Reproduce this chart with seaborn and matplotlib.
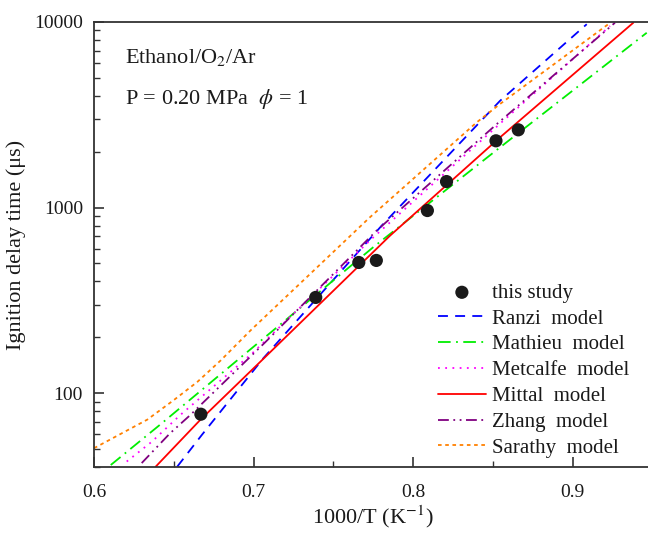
import numpy as np
import pandas as pd
import matplotlib
matplotlib.use("Agg")
import matplotlib.pyplot as plt
import seaborn as sns
from matplotlib.ticker import FixedLocator, NullFormatter, LogLocator, FuncFormatter

# ---- data ----
exp_x = [0.667, 0.739, 0.766, 0.777, 0.809, 0.821, 0.852, 0.866]
exp_y = [77, 328, 506, 519, 964, 1381, 2290, 2624]

ranzi_x = [0.6522, 0.6675, 0.7061, 0.7804, 0.8545, 0.9089]
ranzi_y = [40.2, 59.4, 154, 800, 3758, 9730]

mathieu_x = [0.6105, 0.6424, 0.6936, 0.7751, 0.8545, 0.9465]
mathieu_y = [41, 68.7, 160, 612, 2109, 8750]

metcalfe_x = [0.6205, 0.6362, 0.6539, 0.6989, 0.7741, 0.8566, 0.9235]
metcalfe_y = [42.8, 54.7, 76, 163, 679, 2938, 9510]

mittal_x = [0.6387, 0.6665, 0.7051, 0.7856, 0.8545, 0.9381]
mittal_y = [40.2, 71.6, 150, 706, 2388, 9910]

zhang_x = [0.6299, 0.6476, 0.6602, 0.7076, 0.7772, 0.8525, 0.9266]
zhang_y = [42, 60.7, 76, 189, 752, 2818, 9910]

sarathy_x = [0.6, 0.6334, 0.6502, 0.6648, 0.6794, 0.6982, 0.7730, 0.8399, 0.8545, 0.9224]
sarathy_y = [50.5, 72, 92, 115, 150, 218, 887, 2878, 3614, 9730]

model_names = ["Ranzi  model", "Mathieu  model", "Metcalfe  model",
               "Mittal  model", "Zhang  model", "Sarathy  model"]
model_data = [(ranzi_x, ranzi_y), (mathieu_x, mathieu_y), (metcalfe_x, metcalfe_y),
              (mittal_x, mittal_y), (zhang_x, zhang_y), (sarathy_x, sarathy_y)]
colors = ["#0000ff", "#00ee00", "#ff00ff", "#ff0000", "#800080", "#ff8000"]
styles = [(0, (5.5, 4)), (0, (7, 3, 1, 3)), (0, (1, 3)), "-",
          (0, (6, 2.5, 1, 2.5, 1, 2.5)), (0, (2, 2))]

xticks = [0.6, 0.7, 0.8, 0.9]
yticks = [100, 1000, 10000]

# ---- style ----
sns.set_theme(style="ticks")
plt.rcParams["font.family"] = ["Liberation Serif", "DejaVu Serif"]
plt.rcParams["mathtext.fontset"] = "stix"
plt.rcParams["axes.linewidth"] = 1.3
plt.rcParams["xtick.direction"] = "in"
plt.rcParams["ytick.direction"] = "in"
plt.rcParams["text.color"] = "#1a1a1a"
plt.rcParams["xtick.labelcolor"] = "#1a1a1a"
plt.rcParams["ytick.labelcolor"] = "#1a1a1a"
plt.rcParams["axes.labelcolor"] = "#1a1a1a"

fig = plt.figure(figsize=(6.48, 5.33), dpi=100)
ax = fig.add_axes([94 / 648, 1 - 467 / 533, 558.3 / 648, 445 / 533])

for name, (xs, ys), c, ls in zip(model_names, model_data, colors, styles):
    df = pd.DataFrame({"x": xs, "y": ys})
    sns.lineplot(data=df, x="x", y="y", ax=ax, color=c, linestyle=ls,
                 linewidth=1.3, sort=True, estimator=None, label=name)

edf = pd.DataFrame({"x": exp_x, "y": exp_y})
sns.scatterplot(data=edf, x="x", y="y", ax=ax, color="#1a1a1a", s=90,
                edgecolor="none", label="this study", zorder=5)

ax.set_yscale("log")
ax.set_xlim(0.6, 0.95)
ax.set_ylim(40, 10000)

ax.xaxis.set_major_locator(FixedLocator(xticks))
ax.xaxis.set_minor_locator(FixedLocator([0.65, 0.75, 0.85]))
ax.yaxis.set_major_locator(FixedLocator(yticks))
ax.yaxis.set_minor_locator(LogLocator(base=10, subs=np.arange(2, 10), numticks=20))
ax.yaxis.set_minor_formatter(NullFormatter())
ax.yaxis.set_major_formatter(FuncFormatter(lambda v, p: f"{int(round(v))}"))
ax.xaxis.set_major_formatter(FuncFormatter(lambda v, p: f"{v:.1f}"))

ax.tick_params(axis="both", which="major", length=7, width=1.2, labelsize=14,
               direction="in", color="#333333", pad=8)
ax.tick_params(axis="both", which="minor", length=4, width=1.0, direction="in",
               color="#333333")
ax.tick_params(axis="x", which="major", pad=12)
for sp in ax.spines.values():
    sp.set_color("#333333")

ax.set_xlabel("1000/T (K$^{-1}$)", fontsize=16, labelpad=2)
ax.set_ylabel("Ignition delay time (\u03bcs)", fontsize=16, labelpad=6)

ax.text(0.055, 0.92, "Ethanol/O$_2$/Ar", transform=ax.transAxes, fontsize=16,
        va="center", ha="left")
ax.text(0.055, 0.826, "P = 0.20 MPa  $\\phi$ = 1", transform=ax.transAxes, fontsize=16,
        va="center", ha="left")

h, l = ax.get_legend_handles_labels()
order = [l.index("this study")] + [l.index(n) for n in model_names]
leg = ax.legend([h[i] for i in order], [l[i] for i in order], loc="lower right",
                bbox_to_anchor=(0.985, -0.012), frameon=False, fontsize=15,
                handlelength=2.3, handletextpad=0.3, labelspacing=0.3,
                borderaxespad=0.3)

fig.savefig("out.png", dpi=100)
